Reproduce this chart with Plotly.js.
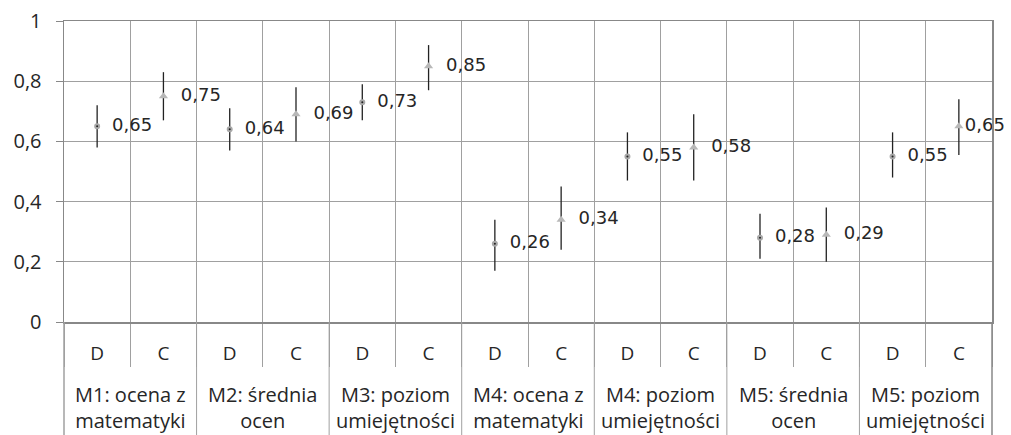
<!DOCTYPE html>
<html>
<head>
<meta charset="utf-8">
<script src="https://cdn.plot.ly/plotly-3.0.1.min.js"></script>
<style>html,body{margin:0;padding:0;background:#fff;}#chart{width:1011px;height:435px;}</style>
</head>
<body>
<div id="chart"></div>
<script>
// Groups (measures) and sub-categories
var groups = ["M1: ocena z<br>matematyki", "M2: średnia<br>ocen", "M3: poziom<br>umiejętności",
              "M4: ocena z<br>matematyki", "M4: poziom<br>umiejętności", "M5: średnia<br>ocen",
              "M5: poziom<br>umiejętności"];
var subs = ["D", "C"];

// Point estimates and interval bounds
var dValues = [0.65, 0.64, 0.73, 0.26, 0.55, 0.28, 0.55];
var dLow    = [0.58, 0.57, 0.67, 0.17, 0.47, 0.21, 0.48];
var dHigh   = [0.72, 0.71, 0.79, 0.34, 0.63, 0.36, 0.63];

var cValues = [0.75, 0.69, 0.85, 0.34, 0.58, 0.29, 0.65];
var cLow    = [0.67, 0.60, 0.77, 0.24, 0.47, 0.20, 0.555];
var cHigh   = [0.83, 0.78, 0.92, 0.45, 0.69, 0.38, 0.74];

var nG = groups.length;
var nCat = nG * subs.length;
var catIdx = [], catText = [];
for (var g = 0; g < nG; g++) for (var s = 0; s < subs.length; s++) { catIdx.push(g * subs.length + s); catText.push(subs[s]); }
var dX = groups.map(function(_, g){ return g * 2; });
var cX = groups.map(function(_, g){ return g * 2 + 1; });
// label text; the last label sits closer to its point so it stays inside the picture
function lbl(v, i, arr){ return (i === arr.length - 1 && arr === cValues ? '' : '\u00a0\u00a0') + v.toFixed(2).replace('.', ','); }

var txtFont = {family: 'DejaVu Sans', size: 18, color: '#262626'};
var traceD = {
  x: dX, y: dValues, type: 'scatter', mode: 'markers+text',
  text: dValues.map(lbl), textposition: 'middle right', textfont: txtFont,
  marker: {symbol: 'circle', size: 4, color: '#222', line: {color: '#a8a8a8', width: 2}},
  error_y: {type: 'data', symmetric: false,
            array: dHigh.map(function(h, i){ return h - dValues[i]; }),
            arrayminus: dLow.map(function(l, i){ return dValues[i] - l; }),
            width: 0, thickness: 1.3, color: '#222'},
  showlegend: false, cliponaxis: false, hoverinfo: 'skip'
};
var traceC = {
  x: cX, y: cValues, type: 'scatter', mode: 'markers+text',
  text: cValues.map(lbl), textposition: 'middle right', textfont: txtFont,
  marker: {symbol: 'triangle-up', size: 8, color: '#b8b8b8'},
  error_y: {type: 'data', symmetric: false,
            array: cHigh.map(function(h, i){ return h - cValues[i]; }),
            arrayminus: cLow.map(function(l, i){ return cValues[i] - l; }),
            width: 0, thickness: 1.3, color: '#222'},
  showlegend: false, cliponaxis: false, hoverinfo: 'skip'
};

var lineCol = '#a0a0a0';
var shapes = [];
for (var b = 0; b <= nG; b++) {
  var xb = b * 2 - 0.5;
  var edge = (b === 0 || b === nG);
  shapes.push({type: 'line', xref: edge ? 'paper' : 'x', yref: 'paper',
    x0: edge ? (b === 0 ? 0 : 1) : xb, x1: edge ? (b === 0 ? 0 : 1) : xb,
    y0: 0, y1: -0.4, line: {color: edge && b === nG ? '#888' : lineCol, width: edge ? 1.5 : 1}});
}
var annotations = groups.map(function(t, g){
  return {x: g * 2 + 0.5, xref: 'x', y: -0.283, yref: 'paper', text: t, showarrow: false,
    xanchor: 'center', yanchor: 'middle', align: 'center',
    font: {family: 'Open Sans', size: 20, color: '#262626'}};
});

var layout = {
  width: 1011, height: 435,
  margin: {l: 64, r: 19, t: 21, b: 113},
  paper_bgcolor: '#fff', plot_bgcolor: '#fff',
  separators: ', ',
  font: {family: 'Open Sans', size: 20, color: '#262626'},
  xaxis: {
    range: [-0.5, nCat - 0.5], tickmode: 'array', tickvals: catIdx, ticktext: catText,
    showgrid: false, zeroline: false, ticks: '', ticklabelstandoff: 14,
    tickfont: {family: 'Open Sans', size: 19, color: '#262626'},
    showline: true, linecolor: '#888', linewidth: 1.5, mirror: true,
    minor: {tickmode: 'linear', tick0: 0.5, dtick: 1, showgrid: true, gridcolor: lineCol, gridwidth: 1,
            ticks: 'outside', ticklen: 43, tickcolor: lineCol, tickwidth: 1}
  },
  yaxis: {
    range: [0, 1], dtick: 0.2, tick0: 0, showgrid: true, gridcolor: lineCol, gridwidth: 1,
    zeroline: false, showline: true, linecolor: '#888', linewidth: 1.5, mirror: true,
    ticks: 'outside', ticklen: 7, tickcolor: '#888', ticklabelstandoff: 10,
    tickfont: {family: 'Open Sans', size: 20, color: '#262626'}
  },
  shapes: shapes,
  annotations: annotations
};

Plotly.newPlot('chart', [traceD, traceC], layout, {staticPlot: true, displayModeBar: false});
</script>
</body>
</html>
